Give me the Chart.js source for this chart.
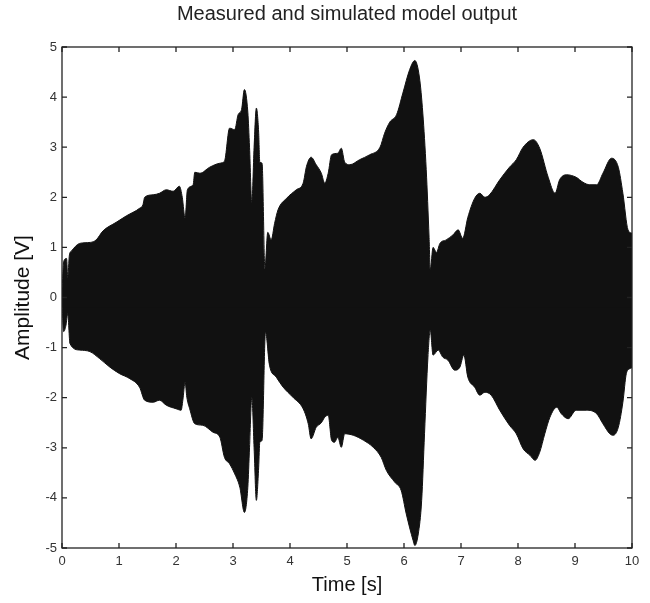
<!DOCTYPE html>
<html lang="en">
<head>
  <meta charset="UTF-8" />
  <title>Measured and simulated model output</title>
  <script src="https://cdn.jsdelivr.net/npm/chart.js"></script>
  <style>
    body {
      margin: 0;
      background: #fff;
    }

    .chart-box {
      width: 650px;
      height: 603px;
    }
  </style>
</head>
<body>

  <div class="chart-box">
    <canvas id="outputChart" width="650" height="603"></canvas>
  </div>

  <script>
    // upper envelope of the signal
    const upperTime = [0, 0.03, 0.08, 0.1, 0.13, 0.16, 0.31, 0.5, 0.6, 0.72, 0.95, 1.13, 1.36, 1.42, 1.45,
      1.6, 1.71, 1.83, 1.95, 2.06, 2.11, 2.16, 2.2, 2.3, 2.33, 2.42, 2.59, 2.77, 2.85, 2.94, 3.03, 3.09,
      3.15, 3.2, 3.26, 3.29, 3.33, 3.37, 3.41, 3.45, 3.47, 3.51, 3.56, 3.61, 3.67, 3.73, 3.79, 3.94, 4.11,
      4.23, 4.29, 4.37, 4.46, 4.55, 4.61, 4.67, 4.73, 4.84, 4.9, 4.96, 5.05, 5.22, 5.4, 5.58, 5.66, 5.75,
      5.87, 5.98, 6.1, 6.19, 6.27, 6.33, 6.39, 6.44, 6.46, 6.51, 6.57, 6.63, 6.74, 6.86, 6.95, 7.03, 7.12,
      7.24, 7.33, 7.42, 7.5, 7.68, 7.85, 7.97, 8.09, 8.27, 8.38, 8.53, 8.65, 8.73, 8.85, 9.02, 9.14, 9.26,
      9.38, 9.49, 9.64, 9.76, 9.84, 9.93, 10];
    const upperVolt = [0.1, 0.72, 0.78, 0.4, 0.85, 0.92, 1.08, 1.1, 1.15, 1.33, 1.5, 1.63, 1.78, 1.85, 2.0,
      2.05, 2.08, 2.15, 2.12, 2.22, 2.0, 1.58, 2.15, 2.25, 2.5, 2.48, 2.6, 2.68, 2.72, 3.38, 3.35, 3.65,
      3.75, 4.15, 3.7, 3.0, 1.88, 3.0, 3.78, 3.3, 2.7, 2.68, 0.58, 1.3, 1.15, 1.48, 1.75, 1.98, 2.15,
      2.28, 2.62, 2.8, 2.65, 2.48, 2.28, 2.48, 2.85, 2.88, 2.98, 2.7, 2.65, 2.75, 2.85, 3.0, 3.28, 3.5,
      3.65, 4.08, 4.55, 4.73, 4.4, 3.68, 2.55, 1.2, 0.55, 1.0, 0.9, 1.08, 1.15, 1.25, 1.35, 1.18, 1.6,
      1.98, 2.08, 2.0, 2.05, 2.35, 2.6, 2.75, 3.0, 3.15, 2.98, 2.4, 2.08, 2.35, 2.45, 2.4, 2.3, 2.25,
      2.25, 2.48, 2.78, 2.6, 2.08, 1.35, 1.28];

    // lower envelope
    const lowerTime = [0, 0.03, 0.07, 0.1, 0.14, 0.31, 0.49, 0.66, 0.84, 1.01, 1.19, 1.36, 1.45, 1.6, 1.71,
      1.83, 2.0, 2.09, 2.12, 2.16, 2.19, 2.24, 2.33, 2.47, 2.65, 2.77, 2.85, 2.94, 3.03, 3.12, 3.2, 3.26,
      3.29, 3.33, 3.37, 3.41, 3.45, 3.47, 3.51, 3.57, 3.64, 3.76, 3.88, 4.05, 4.23, 4.32, 4.37, 4.46, 4.55,
      4.61, 4.67, 4.73, 4.78, 4.84, 4.9, 4.96, 5.11, 5.29, 5.46, 5.6, 5.69, 5.84, 5.95, 6.04, 6.16, 6.19,
      6.25, 6.31, 6.36, 6.42, 6.46, 6.51, 6.6, 6.68, 6.77, 6.89, 6.98, 7.05, 7.12, 7.24, 7.33, 7.42, 7.53,
      7.68, 7.85, 7.97, 8.09, 8.21, 8.3, 8.38, 8.47, 8.56, 8.68, 8.76, 8.88, 9.02, 9.2, 9.38, 9.49, 9.61,
      9.67, 9.76, 9.84, 9.9, 9.96, 10];
    const lowerVolt = [-0.1, -0.68, -0.55, -0.32, -0.92, -1.05, -1.08, -1.22, -1.39, -1.52, -1.62, -1.79,
      -2.05, -2.09, -2.05, -2.15, -2.22, -2.25, -2.05, -1.69, -1.99, -2.22, -2.52, -2.55, -2.69, -2.79,
      -3.19, -3.32, -3.52, -3.79, -4.29, -3.79, -3.0, -1.99, -3.0, -4.05, -3.4, -2.89, -2.85, -0.69, -1.35,
      -1.59, -1.79, -1.99, -2.22, -2.52, -2.82, -2.59, -2.5, -2.39, -2.35, -2.85, -2.89, -2.79, -2.99,
      -2.72, -2.75, -2.85, -2.99, -3.19, -3.45, -3.69, -3.85, -4.32, -4.85, -4.95, -4.72, -4.05, -2.72,
      -1.19, -0.65, -1.15, -1.05, -1.19, -1.25, -1.45, -1.39, -1.15, -1.59, -1.79, -1.95, -1.89, -1.95,
      -2.25, -2.55, -2.72, -3.02, -3.15, -3.25, -3.09, -2.72, -2.39, -2.19, -2.32, -2.42, -2.25, -2.25,
      -2.32, -2.52, -2.72, -2.75, -2.59, -2.09, -1.52, -1.42, -1.4];

    const xTicks = [0, 1, 2, 3, 4, 5, 6, 7, 8, 9, 10];
    const yTicks = [-5, -4, -3, -2, -1, 0, 1, 2, 3, 4, 5];

    const fontFamily = "'Liberation Sans', Arial, sans-serif";
    const ink = '#111';

    const toPoints = (ts, vs) => ts.map((t, i) => ({ x: t, y: vs[i] }));

    // box round the plot with short ticks pointing inwards, like the original
    const framePlugin = {
      id: 'frame',
      afterDraw(chart) {
        const { ctx, chartArea: a, scales } = chart;
        ctx.save();
        ctx.strokeStyle = '#222';
        ctx.lineWidth = 1.3;
        ctx.strokeRect(a.left, a.top, a.right - a.left, a.bottom - a.top);
        ctx.beginPath();
        xTicks.forEach(v => {
          const px = scales.x.getPixelForValue(v);
          ctx.moveTo(px, a.bottom); ctx.lineTo(px, a.bottom - 5);
          ctx.moveTo(px, a.top); ctx.lineTo(px, a.top + 5);
        });
        yTicks.forEach(v => {
          const py = scales.y.getPixelForValue(v);
          ctx.moveTo(a.left, py); ctx.lineTo(a.left + 5, py);
          ctx.moveTo(a.right, py); ctx.lineTo(a.right - 5, py);
        });
        ctx.stroke();
        ctx.restore();
      }
    };

    // each half fills a little past zero so the two fills overlap and leave no seam
    const envelope = (ts, vs, base) => ({
      data: toPoints(ts, vs),
      borderColor: ink,
      backgroundColor: ink,
      borderWidth: 1,
      pointRadius: 0,
      fill: { value: base },
      cubicInterpolationMode: 'monotone'
    });

    new Chart(document.getElementById('outputChart'), {
      type: 'line',
      data: {
        datasets: [envelope(upperTime, upperVolt, -0.2), envelope(lowerTime, lowerVolt, 0.2)]
      },
      options: {
        responsive: false,
        animation: false,
        layout: { padding: { left: 0, right: 18, top: 0, bottom: 0 } },
        plugins: {
          legend: { display: false },
          tooltip: { enabled: false },
          title: {
            display: true,
            fullSize: false,
            text: 'Measured and simulated model output',
            color: '#222',
            font: { family: fontFamily, size: 20, weight: 'normal', lineHeight: 1.2 },
            padding: { top: 2, bottom: 21 }
          }
        },
        scales: {
          x: {
            type: 'linear',
            min: 0,
            max: 10,
            afterFit(s) { s.height = 55; },
            afterBuildTicks(s) { s.ticks = xTicks.map(v => ({ value: v })); },
            ticks: { color: '#333', padding: 6, font: { family: fontFamily, size: 13 } },
            grid: { display: false, drawTicks: false },
            border: { display: false },
            title: {
              display: true,
              text: 'Time [s]',
              color: '#111',
              font: { family: fontFamily, size: 20, lineHeight: 1.2 },
              padding: { top: 0, bottom: 6 }
            }
          },
          y: {
            min: -5,
            max: 5,
            afterFit(s) { s.width = 62; },
            afterBuildTicks(s) { s.ticks = yTicks.map(v => ({ value: v })); },
            ticks: { color: '#333', padding: 5, font: { family: fontFamily, size: 13 } },
            grid: { display: false, drawTicks: false },
            border: { display: false },
            title: {
              display: true,
              text: 'Amplitude [V]',
              color: '#111',
              font: { family: fontFamily, size: 21, lineHeight: 1.2 },
              padding: { top: 11, bottom: 0 }
            }
          }
        }
      },
      plugins: [framePlugin]
    });
  </script>

</body>
</html>
